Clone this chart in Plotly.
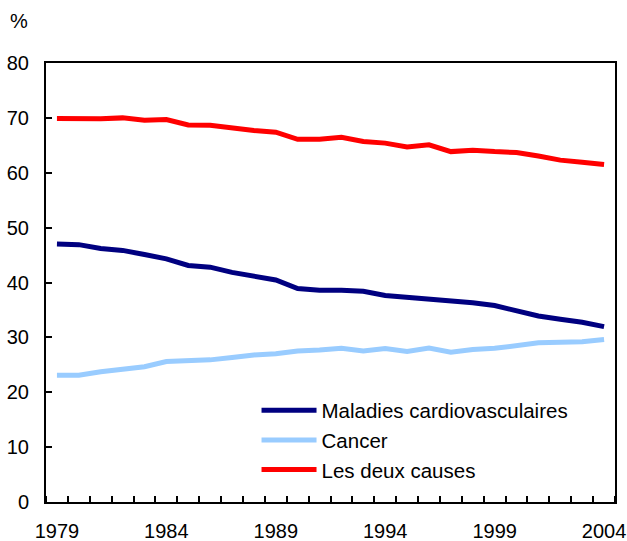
import plotly.graph_objects as go

years = list(range(1979, 2005))
cardio = [47.0, 46.9, 46.2, 45.85, 45.1, 44.3, 43.1, 42.8, 41.85, 41.05, 40.45, 38.9, 38.6, 38.6,
          38.4, 37.65, 37.3, 37.1, 36.7, 36.3, 35.8, 34.9, 33.9, 33.3, 32.75, 31.95]
cancer = [23.1, 23.1, 23.75, 24.2, 24.65, 25.6, 25.7, 25.9, 26.35, 26.8, 27.0, 27.5, 27.7, 28.0,
          27.5, 27.95, 27.45, 28.05, 27.3, 27.8, 28.0, 28.6, 29.0, 29.1, 29.2, 29.6]
both = [69.9, 69.85, 69.85, 70.0, 69.55, 69.7, 68.7, 68.65, 68.15, 67.7, 67.4, 66.1, 66.1, 66.45,
        65.7, 65.4, 64.7, 65.1, 63.85, 64.1, 63.85, 63.7, 63.05, 62.3, 61.9, 61.5]
names = ["Maladies cardiovasculaires", "Cancer", "Les deux causes"]
colors = ["#000080", "#99CCFF", "#FF0000"]
label_years = [1979, 1984, 1989, 1994, 1999, 2004]
y_ticks = [0, 10, 20, 30, 40, 50, 60, 70, 80]

fig = go.Figure()
for vals, name, col in zip([cardio, cancer, both], names, colors):
    fig.add_trace(go.Scatter(x=years, y=vals, mode="lines", name=name,
                             line=dict(color=col, width=5)))

font = "Liberation Sans, Arial, sans-serif"
fig.update_layout(
    width=627, height=541,
    margin=dict(l=46, r=12, t=63, b=39),
    paper_bgcolor="white", plot_bgcolor="white",
    font=dict(family=font, size=20, color="black"),
    showlegend=True,
    legend=dict(x=0.37, y=0.254, xanchor="left", yanchor="top",
                font=dict(size=20.5, family=font), bgcolor="rgba(0,0,0,0)",
                tracegroupgap=0, itemwidth=55),
    xaxis=dict(range=[1978.5, 2004.5], tickvals=label_years, ticks="", ticklen=0,
               showgrid=False, zeroline=False, showline=True, linecolor="black",
               linewidth=2, mirror=True, ticklabelstandoff=10, automargin=False,
               minor=dict(tick0=1979.5, dtick=1, ticks="inside", ticklen=6,
                          tickwidth=2, tickcolor="black", showgrid=False)),
    yaxis=dict(range=[0, 80], tickvals=y_ticks, ticks="inside", ticklen=6, tickwidth=2,
               tickcolor="black", showgrid=False, zeroline=False, showline=True,
               linecolor="black", linewidth=2, mirror=True, ticklabelstandoff=11,
               automargin=False),
    annotations=[dict(text="%", xref="paper", yref="paper", x=-0.047, y=1.095,
                      xanchor="center", yanchor="middle", showarrow=False,
                      font=dict(size=20, family=font))],
)
fig.write_html("out.html", config={"displayModeBar": False},
               post_script="document.body.style.margin='0px';")
